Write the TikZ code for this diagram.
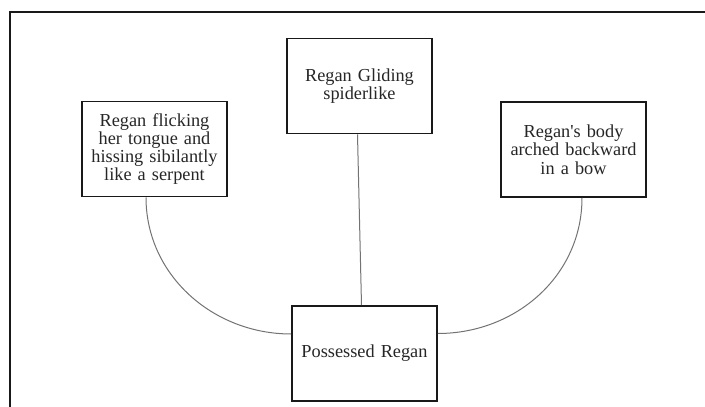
\documentclass[tikz,border=0pt]{standalone}
\usepackage{fontspec}
\setmainfont{Liberation Serif}
\begin{document}
\begin{tikzpicture}[x=1pt,y=-1pt,
  box/.style={draw=black!90,line width=1.6pt,rectangle,minimum width=145pt,minimum height=95pt,inner sep=0pt,
    align=center,text width=135pt,font=\fontsize{18.3}{18.3}\selectfont,text=black!85},
  link/.style={draw=black!55,line width=1pt}]
\useasboundingbox (0,0) rectangle (705,407);
\draw[line width=1.4pt,black!90] (705,12) -- (10,12) -- (10,408);
\node[box] (L) at (154.5,149) {Regan flicking\\her tongue and\\hissing sibilantly\\like a serpent};
\node[box] (T) at (359.5,86) {Regan Gliding\\spiderlike};
\node[box] (R) at (573.5,149.5) {Regan\textquotesingle s body\\arched backward\\in a bow};
\node[box] (B) at (364.5,353.5) {Possessed Regan};
\draw[link] ([xshift=-2pt]T.south) -- ([xshift=-3pt]B.north);
\draw[link] ([xshift=-8.5pt]L.south) .. controls +(0,78) and +(-78,0) .. ([yshift=19.5pt]B.west);
\draw[link] ([xshift=8.5pt]R.south) .. controls +(0,78) and +(78,0) .. ([yshift=20pt]B.east);
\end{tikzpicture}
\end{document}
